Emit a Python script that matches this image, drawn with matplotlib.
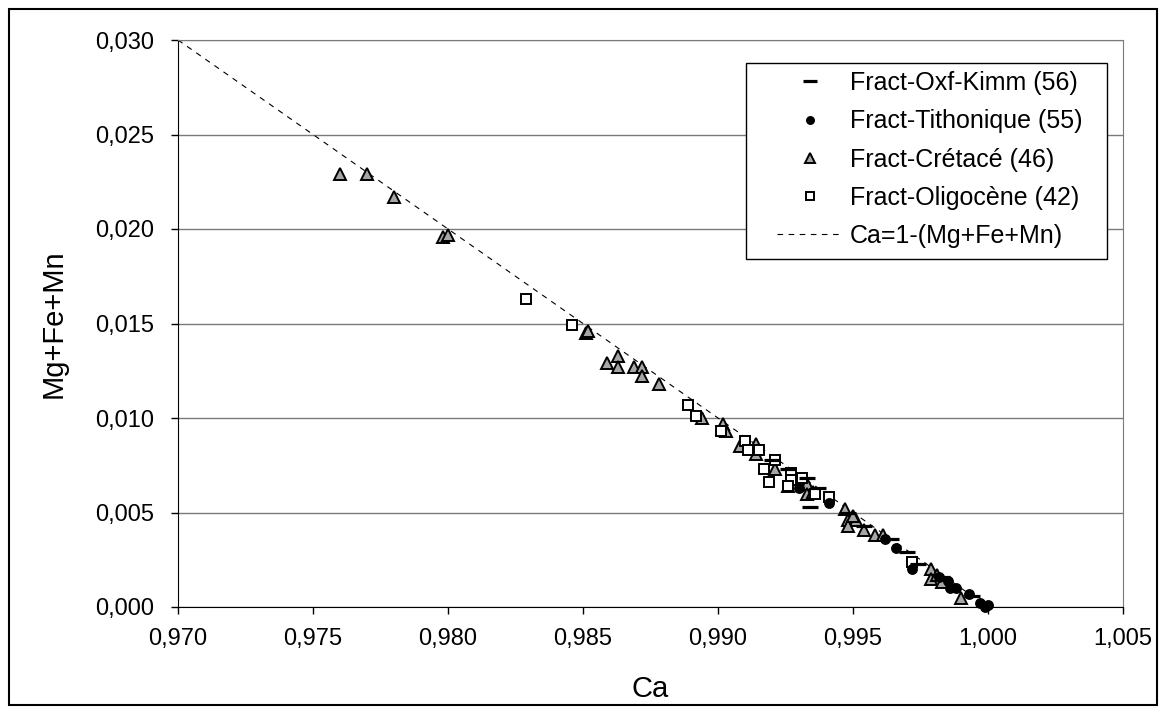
import matplotlib.pyplot as plt
from matplotlib.patches import Rectangle
from matplotlib.ticker import FuncFormatter

plt.rcParams['font.family'] = ['Liberation Sans', 'DejaVu Sans']

# Fract-Oxf-Kimm (56)
oxf_ca = [0.9920, 0.9926, 0.9933, 0.9937, 0.9934, 0.9948, 0.9954, 0.9964,
          0.9970, 0.9974, 0.9983, 0.9994]
oxf_mg = [0.0078, 0.0073, 0.0068, 0.0063, 0.0053, 0.0050, 0.0043, 0.0036,
          0.0029, 0.0023, 0.0016, 0.0006]

# Fract-Tithonique (55)
tith_ca = [0.9930, 0.9941, 0.9962, 0.9966, 0.9972, 0.9982, 0.9985, 0.9986,
           0.9988, 0.9993, 0.9997, 0.9999, 1.0000]
tith_mg = [0.0063, 0.0055, 0.0036, 0.0031, 0.0020, 0.0016, 0.0014, 0.0010,
           0.0010, 0.0007, 0.0002, 0.0000, 0.0001]

# Fract-Crétacé (46)
cret_ca = [0.9760, 0.9770, 0.9780, 0.9798, 0.9800, 0.9851, 0.9852, 0.9859,
           0.9863, 0.9863, 0.9869, 0.9872, 0.9872, 0.9878, 0.9894, 0.9902,
           0.9903, 0.9908, 0.9914, 0.9914, 0.9921, 0.9926, 0.9933, 0.9933,
           0.9935, 0.9947, 0.9948, 0.9951, 0.9948, 0.9950, 0.9954, 0.9958,
           0.9961, 0.9979, 0.9979, 0.9981, 0.9983, 0.9990]
cret_mg = [0.0229, 0.0229, 0.0217, 0.0196, 0.0197, 0.0145, 0.0146, 0.0129,
           0.0133, 0.0127, 0.0127, 0.0127, 0.0122, 0.0118, 0.0100, 0.0097,
           0.0093, 0.0085, 0.0086, 0.0081, 0.0073, 0.0064, 0.0065, 0.0060,
           0.0061, 0.0052, 0.0046, 0.0046, 0.0043, 0.0048, 0.0041, 0.0038,
           0.0038, 0.0020, 0.0015, 0.0017, 0.0013, 0.0005]

# Fract-Oligocène (42)
olig_ca = [0.9829, 0.9846, 0.9889, 0.9892, 0.9901, 0.9910, 0.9911, 0.9915,
           0.9917, 0.9919, 0.9921, 0.9927, 0.9927, 0.9926, 0.9931, 0.9936,
           0.9941, 0.9972]
olig_mg = [0.0163, 0.0149, 0.0107, 0.0101, 0.0093, 0.0088, 0.0083, 0.0083,
           0.0073, 0.0066, 0.0078, 0.0071, 0.0067, 0.0064, 0.0068, 0.0060,
           0.0058, 0.0024]

# Ca = 1 - (Mg+Fe+Mn)
line_ca = [0.970, 1.000]
line_mg = [1 - c for c in line_ca]

W, H = 1159, 708
fig = plt.figure(figsize=(W / 100, H / 100), dpi=100)
ax = fig.add_axes([178 / W, 1 - 607 / H, (1123 - 178) / W, (607 - 40) / H])

ax.plot(line_ca, line_mg, color='black', lw=0.8, ls=(0, (5, 5)),
        label='Ca=1-(Mg+Fe+Mn)', zorder=2)

ax.plot(cret_ca, cret_mg, ls='none', marker='^', ms=8.5, mfc='#a6a6a6',
        mec='black', mew=1.4, label='Fract-Crétacé (46)', zorder=3, clip_on=False)
ax.plot(olig_ca, olig_mg, ls='none', marker='s', ms=6.8, mfc='white',
        mec='black', mew=1.4, label='Fract-Oligocène (42)', zorder=4, clip_on=False)
ax.plot(tith_ca, tith_mg, ls='none', marker='o', ms=6.8, mfc='black',
        mec='black', label='Fract-Tithonique (55)', zorder=5, clip_on=False)
ax.plot(oxf_ca, oxf_mg, ls='none', marker='_', ms=12, mec='black', mew=2.3,
        label='Fract-Oxf-Kimm (56)', zorder=6, clip_on=False)

ax.set_xlim(0.970, 1.005)
ax.set_ylim(0.0, 0.030)
ax.set_xticks([0.970, 0.975, 0.980, 0.985, 0.990, 0.995, 1.000, 1.005])
ax.set_yticks([0.000, 0.005, 0.010, 0.015, 0.020, 0.025, 0.030])
fmt = FuncFormatter(lambda v, p: f'{v:.3f}'.replace('.', ','))
ax.xaxis.set_major_formatter(fmt)
ax.yaxis.set_major_formatter(fmt)
ax.tick_params(direction='out', length=5, width=1, labelsize=17, color='black')
ax.tick_params(axis='y', pad=12)
ax.tick_params(axis='x', pad=10)

ax.yaxis.grid(True, color='#7a7a7a', lw=1)
ax.set_axisbelow(True)
for s in ['top', 'right']:
    ax.spines[s].set_color('#7a7a7a')
for s in ['left', 'bottom']:
    ax.spines[s].set_color('black')

ax.set_xlabel('Ca', fontsize=21, labelpad=18)
ax.set_ylabel('Mg+Fe+Mn', fontsize=21, labelpad=20)

# legend box (frame drawn separately to get the wide side padding)
def px_ax(x, y):
    return (x - 178) / 945, (607 - y) / 567

x0, y0 = px_ax(746, 259)
x1, y1 = px_ax(1107, 63)
ax.add_patch(Rectangle((x0, y0), x1 - x0, y1 - y0, transform=ax.transAxes,
                       facecolor='white', edgecolor='black', lw=1,
                       zorder=7, clip_on=False))

h, l = ax.get_legend_handles_labels()
order = [4, 3, 1, 2, 0]
leg = ax.legend([h[i] for i in order], [l[i] for i in order],
                loc='upper left', bbox_to_anchor=px_ax(777, 71),
                fontsize=18, frameon=False, handlelength=2.65,
                handletextpad=0.25, labelspacing=0.57, borderpad=0,
                borderaxespad=0, markerscale=0.8)
leg.set_zorder(8)

fig.patches.append(Rectangle((9 / W, 3 / H), 1148 / W, 696 / H,
                             transform=fig.transFigure, fill=False,
                             edgecolor='black', lw=1.5))

fig.savefig('out.png', dpi=100)
